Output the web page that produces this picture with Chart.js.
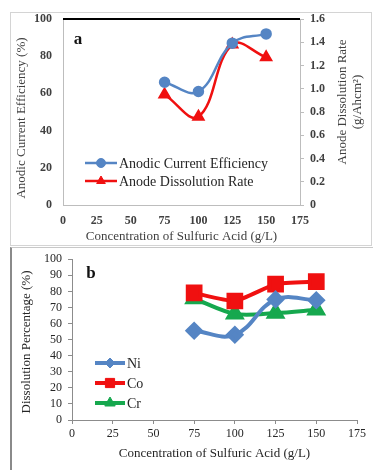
<!DOCTYPE html>
<html><head><meta charset="utf-8">
<script src="https://cdn.jsdelivr.net/npm/chart.js@4.4.1/dist/chart.umd.min.js"></script>
<style>
html,body{margin:0;padding:0;background:#fff;width:373px;height:470px;overflow:hidden;position:relative}
#f1{position:absolute;left:10px;top:12px;width:360px;height:232px;border:1px solid #d4d4d4}
#f2{position:absolute;left:10px;top:247px;width:400px;height:240px;border-left:2px solid #8a8a8a;border-top:1px solid #c8c8c8}
#c1{position:absolute;left:0;top:0}
#c2{position:absolute;left:0;top:246px}
</style></head>
<body>
<div id="f1"></div><div id="f2"></div>
<canvas id="c1" width="373" height="246"></canvas>
<canvas id="c2" width="373" height="224"></canvas>
<script>
// ---- data ----
const concentrations = [75, 100, 125, 150];
const anodicEfficiency = [66, 61, 87, 92];
const dissolutionRate = [0.95, 0.76, 1.38, 1.27];
const niValues = [55.5, 53, 75, 74.5];
const coValues = [79, 74, 84.5, 86];
const crValues = [75.5, 66, 66.5, 68.5];
const xTitle = 'Concentration of Sulfuric Acid (g/L)';
const yTitleA = 'Anodic Current Efficiency (%)';
const yTitleA2 = ['Anode Dissolution Rate', '(g/Ahcm\u00B2)'];
const yTitleB = 'Dissolution Percentage (%)';
const seriesNamesA = ['Anodic Current Efficiency', 'Anode Dissolution Rate'];
const seriesNamesB = ['Ni', 'Co', 'Cr'];

const pts = (vals) => concentrations.map((c, i) => ({x: c, y: vals[i]}));
const SERIF = '"Liberation Serif", "Times New Roman", serif';
const BLUE = '#5585c4', RED = '#f01010', GREEN = '#16a84e';

const decor = {
  id: 'decor',
  afterDraw(chart, args, o) {
    const ctx = chart.ctx, ca = chart.chartArea;
    ctx.save();
    if (o.topLine) {
      ctx.strokeStyle = '#000'; ctx.lineWidth = 2.2;
      ctx.beginPath(); ctx.moveTo(ca.left, ca.top); ctx.lineTo(ca.right, ca.top); ctx.stroke();
    }
    (o.texts || []).forEach(t => {
      ctx.save();
      ctx.font = t.font; ctx.fillStyle = t.color || '#404040';
      ctx.textAlign = t.align || 'center'; ctx.textBaseline = 'middle';
      ctx.translate(t.x(ca), t.y(ca));
      if (t.rot) ctx.rotate(t.rot);
      ctx.fillText(t.text, 0, 0);
      ctx.restore();
    });
    const lg = o.legend;
    if (lg) {
      chart.data.datasets.forEach((ds, i) => {
        const y = lg.y + i * lg.gap;
        ctx.strokeStyle = ds.borderColor; ctx.lineWidth = ds.borderWidth;
        ctx.beginPath(); ctx.moveTo(lg.x, y); ctx.lineTo(lg.x + lg.len, y); ctx.stroke();
        ctx.fillStyle = ds.pointBackgroundColor; ctx.strokeStyle = ds.pointBackgroundColor; ctx.lineWidth = 1;
        Chart.helpers.drawPoint(ctx, {pointStyle: ds.pointStyle, radius: lg.radius[i], rotation: 0, borderWidth: 1}, lg.x + lg.len / 2, y);
        ctx.fillStyle = lg.color; ctx.font = lg.font; ctx.textAlign = 'left'; ctx.textBaseline = 'middle';
        ctx.fillText(ds.label, lg.x + lg.len + 2, y + 1);
      });
    }
    ctx.restore();
  }
};

// ---- chart a ----
new Chart(document.getElementById('c1'), {
  type: 'line',
  data: {
    datasets: [
      {label: seriesNamesA[0], data: pts(anodicEfficiency), yAxisID: 'y', borderColor: BLUE, backgroundColor: BLUE,
       pointBackgroundColor: BLUE, pointBorderColor: BLUE, borderWidth: 2.5, pointStyle: 'circle', pointRadius: 4.5, tension: 0.4},
      {label: seriesNamesA[1], data: pts(dissolutionRate), yAxisID: 'y2', borderColor: RED, backgroundColor: RED,
       pointBackgroundColor: RED, pointBorderColor: RED, borderWidth: 2.5, pointStyle: 'triangle', pointRadius: 5.5, tension: 0.4}
    ]
  },
  options: {
    responsive: false, animation: false, events: [],
    layout: {padding: {left: 12, top: 19, right: 0, bottom: 0}},
    plugins: {
      legend: {display: false}, tooltip: {enabled: false},
      decor: {
        topLine: true,
        texts: [
          {text: 'a', x: ca => 78, y: ca => 40, font: 'bold 17px ' + SERIF, color: '#111'},
          {text: xTitle, x: ca => (ca.left + ca.right) / 2, y: ca => 237, font: '13px ' + SERIF},
          {text: yTitleA, x: ca => 22, y: ca => 118, rot: -Math.PI / 2, font: '13px ' + SERIF},
          {text: yTitleA2[0], x: ca => 343, y: ca => 102, rot: -Math.PI / 2, font: '13px ' + SERIF},
          {text: yTitleA2[1], x: ca => 358, y: ca => 102, rot: -Math.PI / 2, font: '13px ' + SERIF}
        ],
        legend: {x: 85, y: 163, gap: 18, len: 32, radius: [4.5, 5], font: '14px ' + SERIF, color: '#262626'}
      }
    },
    scales: {
      x: {type: 'linear', min: 0, max: 175,
          ticks: {stepSize: 25, autoSkip: false, maxRotation: 0, color: '#404040', font: {family: SERIF, size: 12, weight: 'bold'}, padding: 6},
          grid: {drawOnChartArea: false, drawTicks: true, tickLength: 3, color: 'rgba(0,0,0,0)'},
          border: {display: true, color: '#bdbdbd', width: 1},
          afterFit: s => { s.height = 41; }},
      y: {position: 'left', min: 0, max: 100,
          ticks: {stepSize: 20, autoSkip: false, color: '#404040', font: {family: SERIF, size: 12, weight: 'bold'}, padding: 11},
          grid: {drawOnChartArea: false, drawTicks: false, tickLength: 0},
          border: {display: true, color: '#bdbdbd', width: 1},
          afterFit: s => { s.width = 51; }},
      y2: {position: 'right', min: 0, max: 1.6,
          ticks: {stepSize: 0.2, autoSkip: false, color: '#404040', font: {family: SERIF, size: 12, weight: 'bold'}, padding: 6},
          grid: {drawOnChartArea: false, drawTicks: true, tickLength: 4, color: '#bdbdbd'},
          border: {display: true, color: '#bdbdbd', width: 1},
          afterFit: s => { s.width = 73; }}
    }
  },
  plugins: [decor]
});

// ---- chart b ----
new Chart(document.getElementById('c2'), {
  type: 'line',
  data: {
    datasets: [
      {label: seriesNamesB[0], data: pts(niValues), borderColor: BLUE, backgroundColor: BLUE,
       pointBackgroundColor: BLUE, pointBorderColor: BLUE, borderWidth: 4, pointStyle: 'rectRot', pointRadius: 6.5, tension: 0.4},
      {label: seriesNamesB[1], data: pts(coValues), borderColor: RED, backgroundColor: RED,
       pointBackgroundColor: RED, pointBorderColor: RED, borderWidth: 4, pointStyle: 'rect', pointRadius: 9, tension: 0.15},
      {label: seriesNamesB[2], data: pts(crValues), borderColor: GREEN, backgroundColor: GREEN,
       pointBackgroundColor: GREEN, pointBorderColor: GREEN, borderWidth: 4, pointStyle: 'triangle', pointRadius: 7.5, tension: 0.3}
    ]
  },
  options: {
    responsive: false, animation: false, events: [],
    layout: {padding: {left: 12, top: 13, right: 16, bottom: 0}},
    plugins: {
      legend: {display: false}, tooltip: {enabled: false},
      decor: {
        texts: [
          {text: 'b', x: ca => 91, y: ca => 28, font: 'bold 17px ' + SERIF, color: '#111'},
          {text: xTitle, x: ca => (ca.left + ca.right) / 2, y: ca => 208, font: '13px ' + SERIF, color: '#262626'},
          {text: yTitleB, x: ca => 27, y: ca => 96, rot: -Math.PI / 2, font: '13px ' + SERIF, color: '#262626'}
        ],
        legend: {x: 95, y: 117, gap: 20, len: 30, radius: [5, 6.5, 6], font: '14px ' + SERIF, color: '#262626'}
      }
    },
    scales: {
      x: {type: 'linear', min: 0, max: 175,
          ticks: {stepSize: 25, autoSkip: false, maxRotation: 0, color: '#262626', font: {family: SERIF, size: 12}, padding: 3},
          grid: {drawOnChartArea: false, drawTicks: true, tickLength: 4, color: '#8c8c8c'},
          border: {display: true, color: '#8c8c8c', width: 1},
          afterFit: s => { s.height = 50; }},
      y: {min: 0, max: 100,
          ticks: {stepSize: 10, autoSkip: false, color: '#262626', font: {family: SERIF, size: 12}, padding: 6},
          grid: {drawOnChartArea: false, drawTicks: true, tickLength: 4, color: '#8c8c8c'},
          border: {display: true, color: '#8c8c8c', width: 1},
          afterFit: s => { s.width = 60; }}
    }
  },
  plugins: [decor]
});
</script>
</body></html>
